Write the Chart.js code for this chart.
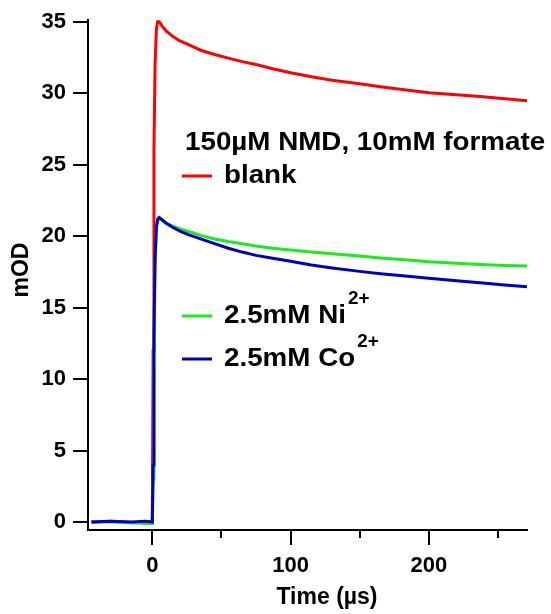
<!DOCTYPE html>
<html>
<head>
<meta charset="utf-8">
<script src="https://cdn.jsdelivr.net/npm/chart.js@4/dist/chart.umd.min.js"></script>
<style>
  html, body { margin: 0; padding: 0; background: #fff; }
  #wrap { width: 551px; height: 614px; position: relative; }
</style>
</head>
<body>
<div id="wrap"><canvas id="c" width="551" height="614"></canvas></div>
<script>
// Transient absorbance after the flash (time in µs, signal in mOD)
const time = [-44, -30, -15, -5, 0, 0.6, 1.2, 2, 3, 4, 5, 7, 10, 15, 20, 27, 35, 45, 55, 65, 75, 87, 100, 115, 130, 150, 165, 185, 200, 220, 237, 255, 271];

const blank = [0, 0.05, -0.05, 0, 0, 12, 26, 32, 34.5, 35.1, 35.0, 34.7, 34.35, 33.95, 33.65, 33.35, 33.0, 32.7, 32.45, 32.2, 32.0, 31.7, 31.42, 31.15, 30.9, 30.65, 30.44, 30.2, 30.03, 29.88, 29.76, 29.6, 29.46];

const ni = [0, 0, -0.05, -0.1, -0.1, 3, 12, 18, 20.5, 21.1, 21.25, 21.1, 20.9, 20.7, 20.5, 20.3, 20.05, 19.8, 19.62, 19.47, 19.3, 19.15, 19.02, 18.88, 18.76, 18.6, 18.47, 18.32, 18.2, 18.1, 18.02, 17.95, 17.9];

const co = [0, 0.05, 0, 0.05, 0, 4, 13, 18.5, 20.7, 21.2, 21.3, 21.15, 20.9, 20.6, 20.35, 20.07, 19.8, 19.47, 19.15, 18.88, 18.65, 18.45, 18.24, 17.98, 17.77, 17.53, 17.37, 17.19, 17.05, 16.88, 16.73, 16.58, 16.45];

const yTicks = [0, 5, 10, 15, 20, 25, 30, 35];
const xTicks = [0, 100, 200];
const xMinorTicks = [50, 150, 250];

const xTitle = 'Time (µs)';
const yTitle = 'mOD';
const legendHeader = '150µM NMD, 10mM formate';
const seriesNames = ['blank', '2.5mM Ni', '2.5mM Co'];
const seriesSup = ['', '2+', '2+'];
const seriesColors = ['#ff0000', '#1ee81e', '#0000c0'];

const FONT = '"Liberation Sans", Arial, sans-serif';

function pts(vals) { return time.map((t, i) => ({ x: t, y: vals[i] })); }

// Draw text slightly widened horizontally, anchored at its left edge
function wideText(ctx, text, x, y, sx) {
  ctx.save();
  ctx.translate(x, y);
  ctx.scale(sx, 1);
  ctx.fillText(text, 0, 0);
  ctx.restore();
  return ctx.measureText(text).width * sx;
}

// Minor ticks, axis titles and the annotated legend
const decorations = {
  id: 'decorations',
  afterDraw(chart) {
    const ctx = chart.ctx;
    const xs = chart.scales.x;
    const area = chart.chartArea;
    ctx.save();
    ctx.strokeStyle = '#000';
    ctx.lineWidth = 2;
    xMinorTicks.forEach(v => {
      const px = Math.round(xs.getPixelForValue(v));
      ctx.beginPath();
      ctx.moveTo(px, area.bottom);
      ctx.lineTo(px, area.bottom + 8);
      ctx.stroke();
    });

    ctx.fillStyle = '#000';
    ctx.textBaseline = 'middle';
    ctx.textAlign = 'center';
    ctx.font = 'bold 23px ' + FONT;
    ctx.fillText(xTitle, 327, 598);

    ctx.save();
    ctx.translate(22, 270);
    ctx.rotate(-Math.PI / 2);
    ctx.fillText(yTitle, 0, 0);
    ctx.restore();

    ctx.textAlign = 'left';
    ctx.font = 'bold 26px ' + FONT;
    wideText(ctx, legendHeader, 185, 143, 1.068);

    const rows = [176, 316, 359];
    rows.forEach((y, i) => {
      ctx.strokeStyle = seriesColors[i];
      ctx.lineWidth = 3;
      ctx.beginPath();
      ctx.moveTo(182, y);
      ctx.lineTo(212, y);
      ctx.stroke();
      ctx.font = 'bold 26px ' + FONT;
      const w = wideText(ctx, seriesNames[i], 224, y, 1.068);
      if (seriesSup[i]) {
        ctx.font = 'bold 18px ' + FONT;
        wideText(ctx, seriesSup[i], 224 + w + 2, y - 17, 1.05);
      }
    });
    ctx.restore();
  }
};

new Chart(document.getElementById('c'), {
  type: 'line',
  data: {
    datasets: [
      { label: seriesNames[2], data: pts(co), borderColor: seriesColors[2] },
      { label: seriesNames[1], data: pts(ni), borderColor: seriesColors[1] },
      { label: seriesNames[0], data: pts(blank), borderColor: seriesColors[0] }
    ]
  },
  options: {
    responsive: false,
    animation: false,
    layout: { padding: { top: 20, right: 24, left: 0, bottom: 0 } },
    elements: {
      line: { borderWidth: 3, tension: 0, fill: false },
      point: { radius: 0 }
    },
    plugins: { legend: { display: false }, tooltip: { enabled: false } },
    scales: {
      x: {
        type: 'linear',
        min: -46.5,
        max: 271,
        afterBuildTicks: s => { s.ticks = xTicks.map(v => ({ value: v })); },
        afterFit: s => { s.height = 84; },
        grid: { drawOnChartArea: false, tickLength: 15, color: '#000', lineWidth: 2 },
        border: { display: true, color: '#000', width: 2 },
        ticks: { color: '#000', font: { family: FONT, size: 22, weight: 'bold' }, padding: 8, maxRotation: 0 }
      },
      y: {
        type: 'linear',
        min: -0.56,
        max: 35.1,
        afterBuildTicks: s => { s.ticks = yTicks.map(v => ({ value: v })); },
        afterFit: s => { s.width = 88; },
        grid: { drawOnChartArea: false, tickLength: 15, color: '#000', lineWidth: 2 },
        border: { display: true, color: '#000', width: 2 },
        ticks: { color: '#000', font: { family: FONT, size: 22, weight: 'bold' }, padding: 7 }
      }
    }
  },
  plugins: [decorations]
});
</script>
</body>
</html>
